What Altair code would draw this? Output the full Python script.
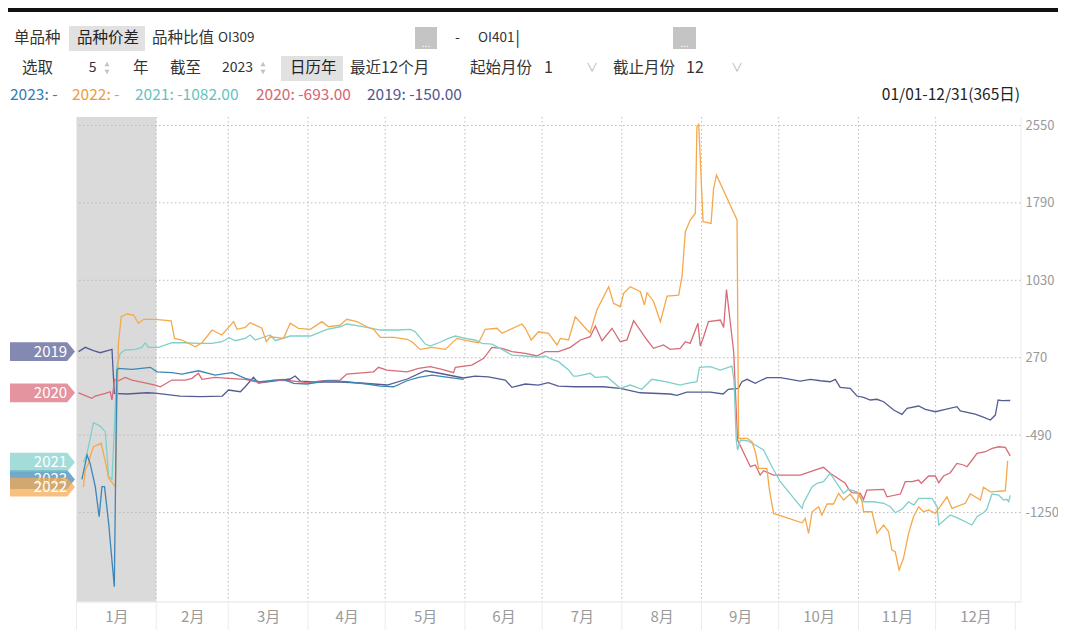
import altair as alt
import pandas as pd

# ---------------- data ----------------
YEARS = ["2019", "2020", "2021", "2022", "2023"]
LINE_COLORS = ["#545c93", "#d86b78", "#7fcfca", "#f5a84c", "#3d86b6"]
TEXT_COLORS = ["#4f5890", "#d8636e", "#64c4be", "#f09a38", "#2f7db3"]

Y_TICKS = [2550, 1790, 1030, 270, -490, -1250]
Y_DOMAIN = [-2123, 2633]
X_DOMAIN = [1, 368]
MONTH_START = [1, 32, 60, 91, 121, 152, 182, 213, 244, 274, 305, 335, 366]
MONTH_LABELS = [f"{i}月" for i in range(1, 13)]
SHADED = [1, 32]

S2019 = [(1.8, 330), (4.4, 372), (7.6, 339), (10.2, 319), (14.1, 346), (14.8, 352), (15.7, -80), (20.6, -86),
         (28.4, -74), (31.6, -77), (41.3, -106), (49.1, -111), (57.7, -106), (60.1, -47), (64.7, -64), (66.6, -15),
         (69.8, 78), (71.7, 22), (77.5, 41), (84.1, 61), (86.0, 90), (88.0, 41), (95.8, 31), (103.5, 31),
         (111.3, 22), (121.8, 2), (129.6, 61), (136.6, 142), (141.6, 120), (151.4, 71), (156.0, 90), (161.1, 81),
         (167.7, 51), (170.3, -21), (175.5, 12), (180.5, 2), (184.4, 25), (188.3, -8), (194.9, -15), (205.8, -15),
         (212.4, -30), (220.2, -74), (231.8, -86), (234.4, -99), (238.3, -67), (247.4, -67), (252.4, -86),
         (254.4, -40), (258.3, -31), (259.7, 34), (261.7, 58), (264.9, 19), (266.8, 44), (269.4, 74), (274.6, 74),
         (282.4, 41), (286.3, 58), (290.2, 44), (294.0, 34), (296.0, 58), (297.9, -21), (301.8, -31), (304.4, -106),
         (307.0, -119), (309.6, -145), (312.2, -138), (314.8, -162), (318.7, -243), (321.9, -286), (323.9, -227),
         (328.4, -204), (331.0, -237), (334.9, -260), (338.8, -237), (343.3, -211), (344.6, -253), (350.4, -283),
         (353.0, -309), (356.3, -342), (358.2, -293), (359.3, -145), (360.8, -152), (364.0, -150)]

S2020 = [(1.8, -75), (7.0, -129), (8.3, -106), (12.2, -80), (14.1, -64), (14.8, -145), (15.8, 58), (17.3, 44),
         (19.9, 77), (22.6, 51), (31.6, 2), (33.6, -15), (38.1, 51), (43.3, 51), (45.9, 68), (48.4, 117), (49.8, 58),
         (54.9, 77), (60.1, 68), (66.6, 58), (72.4, 25), (77.6, 51), (84.1, 44), (90.6, 25), (97.0, 44), (103.5, 51),
         (106.1, 110), (116.5, 132), (118.4, 176), (121.7, 149), (129.5, 132), (134.0, 166), (138.5, 182),
         (143.1, 156), (147.6, 123), (148.3, 176), (154.7, 198), (159.3, 264), (162.5, 372), (166.4, 362),
         (170.3, 329), (175.5, 313), (180.0, 287), (183.2, 329), (188.4, 329), (193.0, 372), (196.9, 444),
         (200.7, 476), (202.7, 581), (205.3, 437), (209.2, 559), (212.4, 427), (215.0, 444), (217.6, 633),
         (222.8, 444), (225.3, 362), (229.2, 395), (231.8, 352), (235.7, 362), (237.7, 427), (239.6, 411),
         (242.6, 608), (243.5, 385), (244.8, 476), (246.7, 624), (251.3, 640), (252.6, 568), (253.7, 940),
         (256.5, 326), (258.0, -538), (263.0, -800), (264.9, -783), (266.8, -882), (268.1, -839), (272.0, -882),
         (282.4, -882), (288.9, -826), (291.4, -806), (294.0, -865), (299.9, -963), (301.2, -1022), (302.5, -1055),
         (305.7, -1061), (307.0, -1120), (308.3, -1029), (314.8, -1022), (316.1, -1095), (321.3, -1068),
         (323.2, -947), (325.8, -947), (328.4, -931), (329.4, -963), (332.3, -891), (334.9, -891), (336.2, -957),
         (338.1, -891), (340.7, -859), (343.3, -767), (345.9, -783), (347.2, -800), (349.2, -734), (351.1, -669),
         (354.4, -653), (357.0, -620), (359.5, -604), (362.1, -610), (364.0, -693)]

S2021 = [(3.7, -755), (5.1, -669), (7.6, -368), (10.2, -401), (12.2, -456), (13.5, -898), (14.8, -924), (15.8, -374),
         (16.7, 182), (18.0, 313), (19.9, 346), (23.8, 352), (26.4, 372), (27.7, 417), (29.0, 372), (32.9, 372),
         (38.1, 417), (43.3, 417), (48.4, 411), (53.7, 411), (57.5, 427), (60.4, 466), (62.7, 437), (66.6, 460),
         (68.5, 493), (70.5, 444), (76.3, 493), (78.3, 437), (84.1, 483), (91.9, 483), (98.4, 549), (103.5, 574),
         (106.1, 601), (111.3, 581), (119.1, 542), (125.6, 542), (130.8, 549), (132.7, 525), (136.6, 404),
         (138.5, 385), (141.8, 417), (145.6, 460), (148.3, 483), (152.1, 460), (156.0, 444), (158.6, 411),
         (162.5, 404), (166.4, 352), (170.3, 296), (175.5, 287), (180.6, 274), (183.2, 287), (185.9, 254),
         (188.4, 231), (192.3, 149), (194.2, 90), (195.6, 90), (200.7, 117), (202.7, 77), (207.2, 84), (212.4, -30),
         (216.3, 2), (220.8, -40), (224.7, 58), (230.5, 34), (235.7, 2), (238.3, 19), (242.2, 34), (243.2, 176),
         (247.4, 182), (251.3, 149), (255.8, 188), (256.6, 51), (257.5, -538), (258.0, -636), (259.1, -538),
         (261.7, -545), (264.9, -587), (268.1, -636), (271.4, -800), (274.6, -947), (283.1, -1209), (283.7, -1153),
         (287.0, -996), (288.9, -963), (291.4, -947), (294.0, -865), (295.3, -914), (299.2, -1061), (301.2, -1022),
         (304.4, -1046), (307.0, -1144), (310.9, -1144), (314.8, -1159), (317.4, -1193), (319.3, -1252),
         (321.9, -1218), (324.5, -1144), (326.5, -1176), (328.4, -1110), (333.6, -1110), (335.6, -1193),
         (336.2, -1372), (340.7, -1274), (343.9, -1307), (349.1, -1372), (351.1, -1291), (353.6, -1252),
         (354.9, -1218), (356.9, -1068), (359.5, -1078), (361.4, -1127), (362.7, -1120), (363.4, -1144),
         (364.0, -1082)]

S2022 = [(3.7, -1000), (4.4, -833), (5.7, -767), (6.3, -702), (7.6, -604), (10.6, -570), (12.2, -751), (13.5, -914),
         (16.1, -996), (17.3, 411), (18.4, 672), (20.6, 699), (23.2, 689), (25.1, 608), (27.1, 647), (31.6, 647),
         (37.8, 633), (39.1, 460), (42.0, 444), (47.2, 378), (49.8, 417), (53.7, 542), (57.5, 493), (62.1, 624),
         (63.4, 549), (66.6, 568), (68.5, 614), (73.1, 559), (74.8, 427), (76.3, 476), (81.5, 460), (84.1, 608),
         (87.3, 559), (91.9, 549), (96.4, 624), (99.0, 574), (103.5, 591), (106.1, 647), (110.0, 624), (113.9, 574),
         (116.5, 549), (119.1, 470), (124.3, 470), (129.5, 451), (131.4, 427), (134.6, 352), (139.2, 372),
         (144.4, 352), (148.9, 460), (152.8, 437), (157.3, 417), (159.9, 549), (164.5, 559), (166.4, 510),
         (174.2, 601), (175.5, 559), (177.8, 444), (180.6, 525), (184.5, 510), (187.8, 395), (189.1, 460),
         (192.3, 444), (194.9, 672), (199.5, 542), (200.7, 515), (203.3, 738), (207.9, 967), (209.8, 804),
         (212.4, 771), (213.7, 902), (216.3, 967), (220.2, 918), (221.8, 787), (222.8, 908), (225.4, 820),
         (228.0, 624), (230.6, 876), (235.1, 885), (236.4, 1065), (237.7, 1507), (239.6, 1622), (241.6, 1688),
         (242.2, 2538), (242.9, 2560), (244.6, 1605), (247.7, 1589), (248.7, 1933), (249.8, 2063), (257.8, 1622),
         (258.4, -521), (261.7, -521), (263.6, -555), (264.9, -653), (266.2, -816), (269.4, -816), (270.4, -1029),
         (272.0, -1258), (283.1, -1350), (284.3, -1307), (285.6, -1454), (287.0, -1242), (289.5, -1193),
         (290.8, -1274), (292.8, -1166), (295.3, -1166), (297.3, -1061), (299.2, -1127), (301.8, -1068),
         (304.4, -1159), (305.1, -1061), (306.4, -1144), (307.0, -1242), (310.3, -1242), (312.2, -1454),
         (314.8, -1372), (316.7, -1438), (318.0, -1618), (319.3, -1635), (320.8, -1814), (322.5, -1699),
         (324.5, -1454), (326.4, -1291), (328.4, -1193), (330.3, -1242), (332.3, -1225), (334.9, -1258),
         (339.4, -1095), (341.4, -1209), (346.5, -1159), (348.5, -1068), (352.4, -1127), (353.6, -1002),
         (356.3, -1046), (362.1, -1036), (363.0, -741)]

S2023 = [(3.1, -925), (5.1, -685), (6.3, -767), (8.3, -996), (9.8, -1291), (10.9, -996), (11.9, -996), (13.5, -1356),
         (15.7, -1978), (16.7, 149), (17.3, 166), (22.6, 156), (29.7, 176), (32.3, 132), (38.1, 123), (42.0, 110),
         (48.4, 142), (54.9, 100), (61.4, 123), (66.6, 68), (72.4, 34), (81.5, 58), (85.4, 19), (90.6, 12),
         (98.4, 44), (106.1, 34), (113.9, 12), (119.1, -8), (124.3, -15), (129.5, 44), (134.0, 77), (139.2, 100),
         (145.6, 77), (151.5, 58)]

SERIES = {"2019": S2019, "2020": S2020, "2021": S2021, "2022": S2022, "2023": S2023}
TAG_ORDER = ["2019", "2020", "2023", "2021", "2022"]

# ---------------- layout ----------------
W, H = 944, 484.5
CJK = "Noto Sans CJK SC"

rows = []
for yr, pts in SERIES.items():
    for d, v in pts:
        rows.append({"year": yr, "day": d, "value": v})
df = pd.DataFrame(rows)

xs = alt.Scale(domain=X_DOMAIN, nice=False, zero=False)
ys = alt.Scale(domain=Y_DOMAIN, nice=False, zero=False)
cs = alt.Scale(domain=YEARS, range=LINE_COLORS)

mids = [(a + b) / 2 for a, b in zip(MONTH_START[:-1], MONTH_START[1:])]
label_expr = ("[" + ",".join(f"'{l}'" for l in MONTH_LABELS) + "][indexof(["
              + ",".join(str(m) for m in mids) + "], datum.value)]")

X_AXIS = alt.Axis(values=mids, labelExpr=label_expr, ticks=False, grid=False, title=None,
                  domainColor="#e3e3e3", labelColor="#9a9a9a", labelFontSize=15, labelFont=CJK,
                  labelPadding=8, labelFlush=False, labelOverlap=False)
Y_AXIS = alt.Axis(orient="right", values=Y_TICKS, labelExpr="'' + datum.value", ticks=False, grid=False,
                  title=None, domainColor="#ececec", labelColor="#9a9a9a", labelFontSize=13, labelFont=CJK,
                  labelPadding=4.5, labelFlush=False, labelOverlap=False)

band = alt.Chart(pd.DataFrame({"day": [SHADED[0]], "d2": [SHADED[1]]})).mark_rect(color="#dadada").encode(
    x=alt.X("day:Q", scale=xs, axis=X_AXIS), x2="d2:Q", y=alt.value(0), y2=alt.value(H))

vgrid = alt.Chart(pd.DataFrame({"day": MONTH_START[1:-1]})).mark_rule(
    color="#bcbcbc", strokeDash=[1.5, 2.5], strokeWidth=1).encode(x=alt.X("day:Q", scale=xs, axis=X_AXIS))

hgrid = alt.Chart(pd.DataFrame({"value": Y_TICKS})).mark_rule(
    color="#bcbcbc", strokeDash=[1.5, 2.5], strokeWidth=1).encode(y=alt.Y("value:Q", scale=ys, axis=Y_AXIS))

seps = alt.Chart(pd.DataFrame({"day": MONTH_START})).mark_rule(color="#ebebeb").encode(
    x=alt.X("day:Q", scale=xs, axis=X_AXIS), y=alt.value(H), y2=alt.value(H + 30))

lines = alt.Chart(df).mark_line(strokeWidth=1.3).encode(
    x=alt.X("day:Q", scale=xs, axis=X_AXIS),
    y=alt.Y("value:Q", scale=ys, axis=Y_AXIS),
    color=alt.Color("year:N", scale=cs, legend=None),
    order="day:Q",
)

TAG_PATH = "M-1,-0.29L0.76,-0.29L1,0L0.76,0.29L-1,0.29Z"
tag_layers = []
for yr in TAG_ORDER:
    tdf = pd.DataFrame({"year": [yr], "value": [SERIES[yr][0][1]]})
    tag_layers.append(alt.Chart(tdf).mark_point(
        shape=TAG_PATH, size=4225, filled=True, opacity=0.72, strokeWidth=0).encode(
        x=alt.value(-34), y=alt.Y("value:Q", scale=ys, axis=Y_AXIS),
        color=alt.Color("year:N", scale=cs, legend=None)))
    tag_layers.append(alt.Chart(tdf).mark_text(
        color="white", fontSize=15, font=CJK, align="center", baseline="middle").encode(
        x=alt.value(-26), y=alt.Y("value:Q", scale=ys, axis=Y_AXIS), text="year:N"))

DUMMY = pd.DataFrame({"k": [0]})


def txt(s, x, y, size=15.5, color="#333333", align="left", font=CJK):
    return alt.Chart(DUMMY).mark_text(text=s, align=align, baseline="middle", fontSize=size,
                                      color=color, font=font).encode(x=alt.value(x), y=alt.value(y))


def box(x1, x2, y1, y2, color):
    return alt.Chart(DUMMY).mark_rect(color=color).encode(
        x=alt.value(x1), x2=alt.value(x2), y=alt.value(y1), y2=alt.value(y2))


def tri(x, y, shape):
    return alt.Chart(DUMMY).mark_point(shape=shape, filled=True, size=26, color="#a8a8a8", strokeWidth=0).encode(
        x=alt.value(x), y=alt.value(y))


R1, R2, R3 = -79, -49, -22
ui = [
    box(-68.5, 981.5, -109, -105, "#111111"),
    # row 1
    txt("单品种", -62.5, R1),
    box(-7.5, 68.5, -91, -66, "#e1e1e1"),
    txt("品种价差", 0.5, R1, color="#222222"),
    txt("品种比值", 75.5, R1),
    txt("OI309", 141.5, R1, size=13.5),
    box(338.5, 360.5, -90, -68, "#c4c4c4"),
    txt("...", 349.5, -73, size=10, color="white", align="center"),
    txt("-", 378.5, R1, size=14),
    txt("OI401", 401.5, R1, size=13.5),
    txt("|", 439, R1, size=16, color="#222222"),
    box(596.5, 619.5, -90, -68, "#c4c4c4"),
    txt("...", 608, -73, size=10, color="white", align="center"),
    # row 2
    txt("选取", -54.5, R2),
    txt("5", 20, R2, size=14, align="right"),
    tri(30.5, -53, "triangle-up"), tri(30.5, -45, "triangle-down"),
    txt("年", 56.5, R2),
    txt("截至", 93.5, R2),
    txt("2023", 145.5, R2, size=14),
    tri(186.5, -53, "triangle-up"), tri(186.5, -45, "triangle-down"),
    box(204.5, 266.5, -61, -36, "#e1e1e1"),
    txt("日历年", 213.5, R2, color="#222222"),
    txt("最近12个月", 273.5, R2),
    txt("起始月份", 393.5, R2),
    txt("1", 467.5, R2, size=16),
    txt("∨", 515.5, R2, size=12, color="#b5b5b5", align="center"),
    txt("截止月份", 536.5, R2),
    txt("12", 609.5, R2, size=16),
    txt("∨", 660.5, R2, size=12, color="#b5b5b5", align="center"),
    # row 3 (legend)
    txt("2023: -", -66.5, R3, size=15.5, color=TEXT_COLORS[4]),
    txt("2022: -", -4.5, R3, size=15.5, color=TEXT_COLORS[3]),
    txt(f"2021: {S2021[-1][1]:.2f}", 58.5, R3, size=15.5, color=TEXT_COLORS[2]),
    txt(f"2020: {S2020[-1][1]:.2f}", 179.5, R3, size=15.5, color=TEXT_COLORS[1]),
    txt(f"2019: {S2019[-1][1]:.2f}", 290.5, R3, size=15.5, color=TEXT_COLORS[0]),
    txt("01/01-12/31(365日)", 943.5, R3, size=15.5, color="#222222", align="right"),
]

chart = alt.layer(band, vgrid, hgrid, seps, lines, *tag_layers, *ui).properties(
    width=W, height=H,
    autosize=alt.AutoSizeParams(type="none"),
    padding={"left": 68.5, "top": 109, "right": 37.5, "bottom": 28},
    background="white",
).configure_view(strokeWidth=0)

chart.save("out.html", embed_options={"renderer": "svg", "actions": False})
